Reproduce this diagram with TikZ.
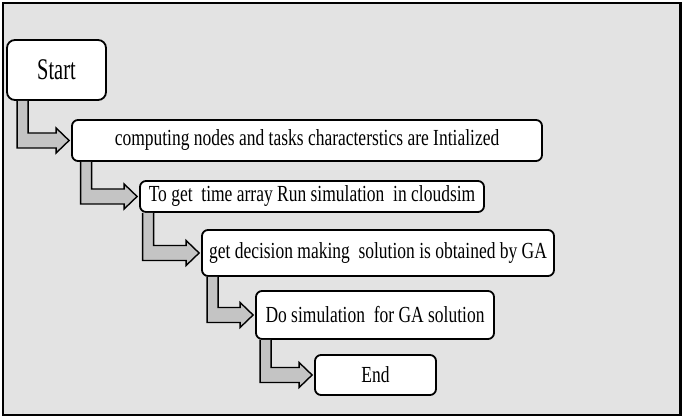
\documentclass[tikz,border=0pt]{standalone}
\usepackage{fontspec}
\setmainfont{Liberation Serif}
\newfontfamily\boxfont[FakeStretch=0.76]{Liberation Serif}
\newfontfamily\startfont[FakeStretch=0.68]{Liberation Serif}
\usetikzlibrary{calc}
\definecolor{bggray}{HTML}{E3E3E3}
\definecolor{arrowgray}{HTML}{C4C4C4}
\tikzset{
  stepbox/.style={draw=black, fill=white, line width=1.8pt, rounded corners=6pt,
    inner sep=0pt, font=\boxfont\fontsize{23}{26}\selectfont, align=center},
  flowarrow/.style={draw=black, fill=arrowgray, line width=1.4pt, line join=miter},
}
\newcommand\blockarrow[3]{%
  \filldraw[flowarrow] let \p1=(#1.south west), \p2=(#2.west) in
    ({\x1+#3pt+11pt},{\y1}) -- ({\x1+#3pt+11pt},{\y2+7.5pt}) --
    ({\x2-15pt},{\y2+7.5pt}) -- ({\x2-15pt},{\y2+12.5pt}) --
    ({\x2-2pt},{\y2}) --
    ({\x2-15pt},{\y2-12.5pt}) -- ({\x2-15pt},{\y2-7.5pt}) --
    ({\x1+#3pt},{\y2-7.5pt}) -- ({\x1+#3pt},{\y1});
}
\begin{document}
\begin{tikzpicture}[x=1pt,y=-1pt]
\useasboundingbox (0,0) rectangle (685,419);
\draw[line width=2.2pt, fill=bggray] (3,3) rectangle (680.5,415);

\node[stepbox, rounded corners=8pt, minimum width=99pt, minimum height=60pt,
  font=\startfont\fontsize{30}{32}\selectfont] (start) at (56.5,70) {Start};
\node[stepbox, minimum width=470pt, minimum height=41pt] (b1) at (307,140.5)
  {computing nodes and tasks characterstics are Intialized};
\node[stepbox, minimum width=344pt, minimum height=31pt] (b2) at (312,196.5)
  {To get\ \ time array Run simulation\ \ in cloudsim};
\node[stepbox, minimum width=352pt, minimum height=46pt] (b3) at (378,253)
  {get decision making\ \ solution is obtained by GA};
\node[stepbox, minimum width=238pt, minimum height=48pt] (b4) at (375,315)
  {Do simulation\ \ for GA solution};
\node[stepbox, minimum width=121pt, minimum height=40pt] (b5) at (375.5,375)
  {End};

\blockarrow{start}{b1}{11}
\blockarrow{b1}{b2}{9.5}
\blockarrow{b2}{b3}{3.5}
\blockarrow{b3}{b4}{6}
\blockarrow{b4}{b5}{5}
\end{tikzpicture}
\end{document}
